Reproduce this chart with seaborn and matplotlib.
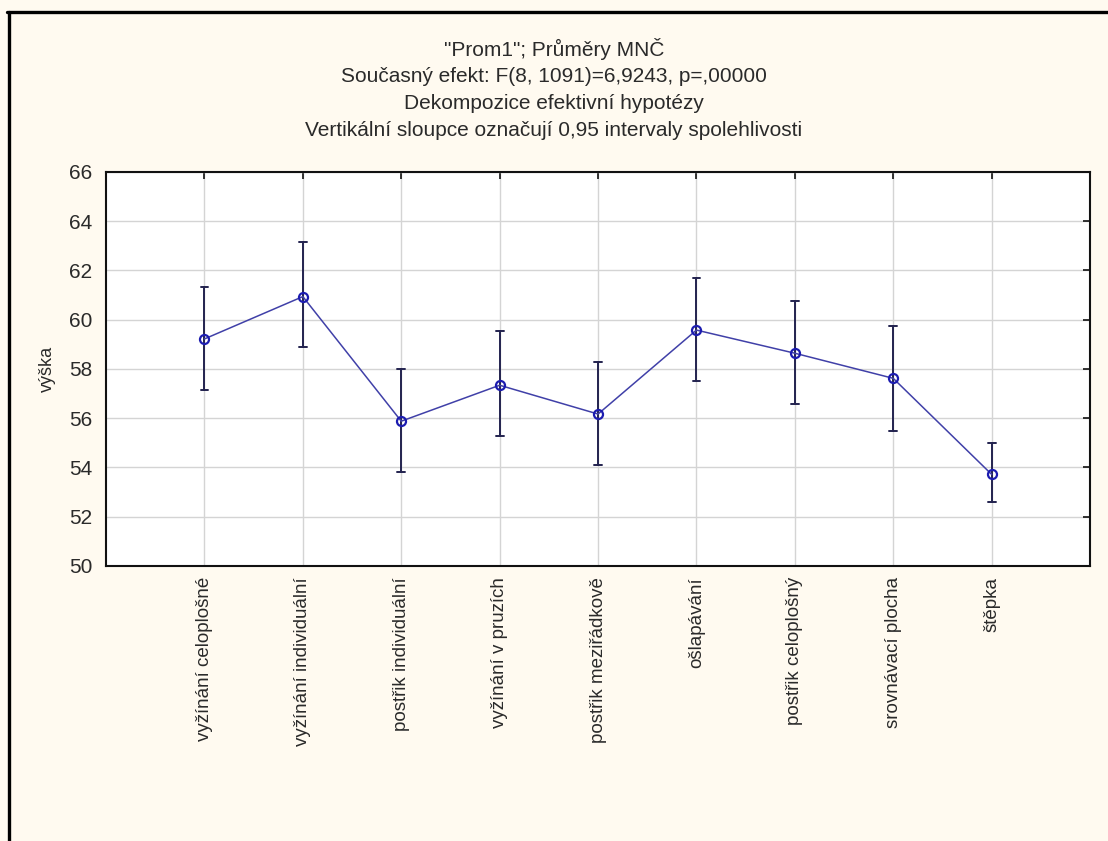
import numpy as np
import pandas as pd
import matplotlib
matplotlib.use("Agg")
import matplotlib.pyplot as plt
import seaborn as sns
from matplotlib.lines import Line2D

kategorie = ["vyžínání celoplošné", "vyžínání individuální", "postřik individuální",
             "vyžínání v pruzích", "postřik meziřádkově", "ošlapávání",
             "postřik celoplošný", "srovnávací plocha", "štěpka"]
prumery = [59.22, 60.94, 55.88, 57.34, 56.17, 59.58, 58.64, 57.62, 53.72]
dolni_mez = [57.15, 58.89, 53.82, 55.27, 54.10, 57.51, 56.58, 55.49, 52.60]
horni_mez = [61.34, 63.15, 58.01, 59.53, 58.30, 61.70, 60.75, 59.75, 54.98]

tituly = ['"Prom1"; Průměry MNČ',
          "Současný efekt: F(8, 1091)=6,9243, p=,00000",
          "Dekompozice efektivní hypotézy",
          "Vertikální sloupce označují 0,95 intervaly spolehlivosti"]

# tabulka: dolni mez, prumer, horni mez pro kazdou kategorii
df = pd.DataFrame({
    "kategorie": np.repeat(kategorie, 3),
    "vyska": np.column_stack([dolni_mez, prumery, horni_mez]).ravel(),
})

sns.set_style("white")
plt.rcParams["font.family"] = ["Liberation Sans", "DejaVu Sans"]
text_color = "#2a2a2a"

fig = plt.figure(figsize=(11.08, 8.41), dpi=100, facecolor="#fffaf0")
ax = fig.add_axes([0.0957, 0.327, 0.8881, 0.4685])
ax.set_facecolor("white")

sns.pointplot(data=df, x="kategorie", y="vyska", order=kategorie,
              estimator="median", errorbar=lambda v: (v.min(), v.max()),
              capsize=0.08, color="#2424a8", markers="o", linestyles="-",
              err_kws={"color": "#23234f", "linewidth": 1.4},
              ax=ax)

for line in ax.lines:
    if line.get_marker() == "o":
        line.set_markerfacecolor("none")
        line.set_markeredgecolor("#1c1cb0")
        line.set_markersize(6.5)
        line.set_markeredgewidth(1.6)
        line.set_linewidth(1.1)
        line.set_color("#4040a8")
        line.set_zorder(5)

ax.set_xlim(-1, 9)
ax.set_ylim(50, 66)
ax.set_yticks(range(50, 67, 2))
ax.grid(True, color="#d4d4d4", linewidth=1)
ax.set_axisbelow(True)
for s in ax.spines.values():
    s.set_color("#111111")
    s.set_linewidth(1.5)

ax.tick_params(axis="both", direction="in", length=5, width=1.2, color="#111111",
               labelcolor=text_color, top=True, right=True)
ax.tick_params(axis="y", pad=10, labelsize=15)
ax.tick_params(axis="x", pad=8, labelsize=13.5)
plt.setp(ax.get_xticklabels(), rotation=90)
ax.set_xlabel("")
ax.set_ylabel("výška", fontsize=13, color=text_color, labelpad=9)

for i, t in enumerate(tituly):
    fig.text(0.5, 1 - (49 + 27.3 * i) / 841, t, ha="center", va="center",
             fontsize=15, color=text_color)

# cerny ramecek obrazku
fig.add_artist(Line2D([0.0065, 1.0], [0.9863, 0.9863], color="black", linewidth=2.4))
fig.add_artist(Line2D([0.0077, 0.0077], [0.0, 0.9863], color="black", linewidth=2.4))

fig.savefig("out.png", dpi=100, facecolor=fig.get_facecolor())
